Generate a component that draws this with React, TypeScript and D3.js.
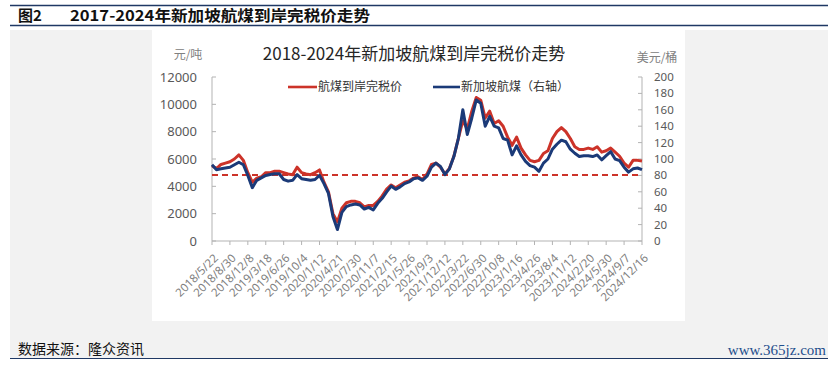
import React, { useRef, useEffect } from 'react';
import * as d3 from 'd3';

// 航煤到岸完税价 (元/吨), sampled every 25 days from 2018/5/22
const jetFuelCny = [
  5500, 5300, 5600, 5700, 5800, 6000, 6300, 5900, 5000, 4300,
  4600, 4700, 5000, 5000, 5100, 5100, 5000, 4900, 4850, 5400,
  5000, 4900, 4850, 5000, 5200, 4300, 3600, 2000, 1400, 2400,
  2800, 2900, 2900, 2800, 2500, 2600, 2600, 2900, 3300, 3800,
  4100, 3900, 4100, 4300, 4400, 4600, 4700, 4500, 4900, 5600,
  5700, 5400, 4900, 5300, 6200, 7500, 8800, 8200, 9500, 10500,
  10300, 9000, 9500, 8600, 8800, 8400, 7600, 7000, 7600, 6800,
  6300, 5900, 5800, 5900, 6400, 6600, 7500, 8000, 8300, 8000,
  7500, 6900, 6700, 6700, 6800, 6700, 6900, 6500, 6600, 6800,
  6500, 6200, 5700, 5400, 5900, 5900, 5850,
];

// 新加坡航煤 (美元/桶, 右轴)
const sgJetUsd = [
  93, 87, 88, 89, 90, 93, 96, 93, 80, 65,
  74, 77, 80, 81, 82, 82, 75, 73, 74, 81,
  76, 75, 74, 75, 80, 70, 58, 30, 14, 35,
  42, 44, 45, 44, 39, 41, 38, 46, 52, 60,
  67, 63, 66, 70, 72, 76, 77, 74, 79, 90,
  95, 91, 81, 88, 103, 125, 160, 130, 150, 172,
  168, 140, 152, 140, 138, 125, 123, 105, 116, 105,
  97, 92, 90, 85, 95, 100, 112, 118, 123, 121,
  112, 107, 103, 104, 104, 103, 105, 99, 104, 109,
  100, 98, 90, 84, 88, 89, 87,
];

const xTickLabels = [
  '2018/5/22', '2018/8/30', '2018/12/8', '2019/3/18', '2019/6/26',
  '2019/10/4', '2020/1/12', '2020/4/21', '2020/7/30', '2020/11/7',
  '2021/2/15', '2021/5/26', '2021/9/3', '2021/12/12', '2022/3/22',
  '2022/6/30', '2022/10/8', '2023/1/16', '2023/4/26', '2023/8/4',
  '2023/11/12', '2024/2/20', '2024/5/30', '2024/9/7', '2024/12/16',
];

const leftTicks = [0, 2000, 4000, 6000, 8000, 10000, 12000];
const rightTicks = [0, 20, 40, 60, 80, 100, 120, 140, 160, 180, 200];
const baselineCny = 4830;

const STEP_DAYS = 25;
const RED = '#cc3329';
const NAVY = '#1b3a78';
const FONT = '"Noto Sans CJK SC", "Noto Sans", sans-serif';
const NUM_FONT = '"Noto Sans", sans-serif';

const App: React.FC = () => {
  const ref = useRef<SVGSVGElement | null>(null);

  useEffect(() => {
    if (!ref.current) return;
    const svg = d3.select(ref.current);
    svg.selectAll('*').remove();

    const width = 834;
    const height = 368;
    const plot = { left: 212, right: 642, top: 77, bottom: 241 };

    const parse = d3.timeParse('%Y/%m/%d');
    const tickDates = xTickLabels.map(s => parse(s) as Date);
    const start = tickDates[0];

    const cnyData = jetFuelCny.map((v, i) => ({ date: d3.timeDay.offset(start, i * STEP_DAYS), v }));
    const usdData = sgJetUsd.map((v, i) => ({ date: d3.timeDay.offset(start, i * STEP_DAYS), v }));

    const x = d3.scaleTime()
      .domain([start, tickDates[tickDates.length - 1]])
      .range([plot.left, plot.right]);
    const yLeft = d3.scaleLinear().domain([0, 12000]).range([plot.bottom, plot.top]);
    const yRight = d3.scaleLinear().domain([0, 200]).range([plot.bottom, plot.top]);

    // page background + panels
    svg.append('rect').attr('width', width).attr('height', height).attr('fill', '#fff');
    svg.append('rect').attr('x', 10).attr('y', 30).attr('width', 818).attr('height', 328).attr('fill', '#f2f2f2');
    svg.append('rect').attr('x', 152).attr('y', 30).attr('width', 533).attr('height', 291).attr('fill', '#fff');

    // header
    [5.5, 25.5].forEach(yy => {
      svg.append('line').attr('x1', 10).attr('x2', 828).attr('y1', yy).attr('y2', yy)
        .attr('stroke', '#1f3864').attr('stroke-width', 1.5);
    });
    svg.append('text').attr('x', 18).attr('y', 21).attr('font-family', FONT).attr('font-weight', 700)
      .attr('font-size', 15).attr('fill', '#111').text('图2');
    svg.append('text').attr('x', 70).attr('y', 21).attr('font-family', FONT).attr('font-weight', 700)
      .attr('font-size', 15).attr('fill', '#111')
      .attr('textLength', 300).attr('lengthAdjust', 'spacingAndGlyphs')
      .text('2017-2024年新加坡航煤到岸完税价走势');

    // footer
    svg.append('line').attr('x1', 10).attr('x2', 828).attr('y1', 358.5).attr('y2', 358.5)
      .attr('stroke', '#1f3864').attr('stroke-width', 1.2);
    svg.append('text').attr('x', 18).attr('y', 354).attr('font-family', FONT)
      .attr('font-size', 14).attr('fill', '#111').text('数据来源：隆众资讯');
    svg.append('text').attr('x', 826).attr('y', 355).attr('text-anchor', 'end')
      .attr('font-family', '"Liberation Serif", serif').attr('font-size', 15)
      .attr('fill', '#1f4e8c').text('www.365jz.com');

    // chart title and units
    svg.append('text').attr('x', 414).attr('y', 60).attr('text-anchor', 'middle')
      .attr('font-family', FONT).attr('font-size', 17).attr('fill', '#262626')
      .text('2018-2024年新加坡航煤到岸完税价走势');
    svg.append('text').attr('x', 188).attr('y', 59).attr('text-anchor', 'middle')
      .attr('font-family', FONT).attr('font-size', 12).attr('fill', '#808080').text('元/吨');
    svg.append('text').attr('x', 657).attr('y', 62).attr('text-anchor', 'middle')
      .attr('font-family', FONT).attr('font-size', 12).attr('fill', '#808080').text('美元/桶');

    const axisColor = '#b3b3b3';
    const labelColor = '#595959';

    // left axis
    svg.append('line').attr('x1', plot.left).attr('x2', plot.left)
      .attr('y1', plot.top).attr('y2', plot.bottom).attr('stroke', axisColor);
    leftTicks.forEach(t => {
      svg.append('line').attr('x1', plot.left).attr('x2', plot.left + 4)
        .attr('y1', yLeft(t)).attr('y2', yLeft(t)).attr('stroke', axisColor);
      svg.append('text').attr('x', 197).attr('y', yLeft(t)).attr('dy', '0.35em')
        .attr('text-anchor', 'end').attr('font-family', NUM_FONT).attr('font-size', 13)
        .attr('fill', labelColor).text(String(t));
    });

    // right axis
    svg.append('line').attr('x1', plot.right).attr('x2', plot.right)
      .attr('y1', plot.top).attr('y2', plot.bottom).attr('stroke', axisColor);
    rightTicks.forEach(t => {
      svg.append('line').attr('x1', plot.right - 4).attr('x2', plot.right)
        .attr('y1', yRight(t)).attr('y2', yRight(t)).attr('stroke', axisColor);
      svg.append('text').attr('x', 654).attr('y', yRight(t)).attr('dy', '0.35em')
        .attr('font-family', NUM_FONT).attr('font-size', 11.5)
        .attr('fill', labelColor).text(String(t));
    });

    // x axis
    svg.append('line').attr('x1', plot.left).attr('x2', plot.right)
      .attr('y1', plot.bottom).attr('y2', plot.bottom).attr('stroke', axisColor);
    tickDates.forEach((d, i) => {
      const tx = x(d);
      svg.append('line').attr('x1', tx).attr('x2', tx)
        .attr('y1', plot.bottom).attr('y2', plot.bottom + 4).attr('stroke', axisColor);
      svg.append('text')
        .attr('transform', `translate(${tx + 4},${plot.bottom + 15}) rotate(-45)`)
        .attr('dy', '0.35em').attr('text-anchor', 'end')
        .attr('font-family', NUM_FONT).attr('font-size', 11.5)
        .attr('fill', '#7f7f7f').text(xTickLabels[i]);
    });

    // reference dashed line
    svg.append('line').attr('x1', plot.left).attr('x2', plot.right)
      .attr('y1', yLeft(baselineCny)).attr('y2', yLeft(baselineCny))
      .attr('stroke', RED).attr('stroke-width', 2).attr('stroke-dasharray', '6,4');

    // series
    const lineLeft = d3.line<{ date: Date; v: number }>()
      .x(d => x(d.date)).y(d => yLeft(d.v));
    const lineRight = d3.line<{ date: Date; v: number }>()
      .x(d => x(d.date)).y(d => yRight(d.v));

    svg.append('path').datum(cnyData).attr('fill', 'none').attr('stroke', RED)
      .attr('stroke-width', 3).attr('stroke-linejoin', 'round').attr('d', lineLeft as any);
    svg.append('path').datum(usdData).attr('fill', 'none').attr('stroke', NAVY)
      .attr('stroke-width', 3).attr('stroke-linejoin', 'round').attr('d', lineRight as any);

    // legend
    const legend = [
      { x1: 288, x2: 317, color: RED, label: '航煤到岸完税价' },
      { x1: 433, x2: 460, color: NAVY, label: '新加坡航煤（右轴）' },
    ];
    legend.forEach(l => {
      svg.append('line').attr('x1', l.x1).attr('x2', l.x2).attr('y1', 87).attr('y2', 87)
        .attr('stroke', l.color).attr('stroke-width', 2.6);
      svg.append('text').attr('x', l.x2 + 1).attr('y', 87).attr('dy', '0.35em')
        .attr('font-family', FONT).attr('font-size', 12).attr('fill', '#333').text(l.label);
    });
  }, []);

  return (
    <svg ref={ref} width={834} height={368}
      style={{ position: 'absolute', left: 0, top: 0, display: 'block' }} />
  );
};

export default App;
